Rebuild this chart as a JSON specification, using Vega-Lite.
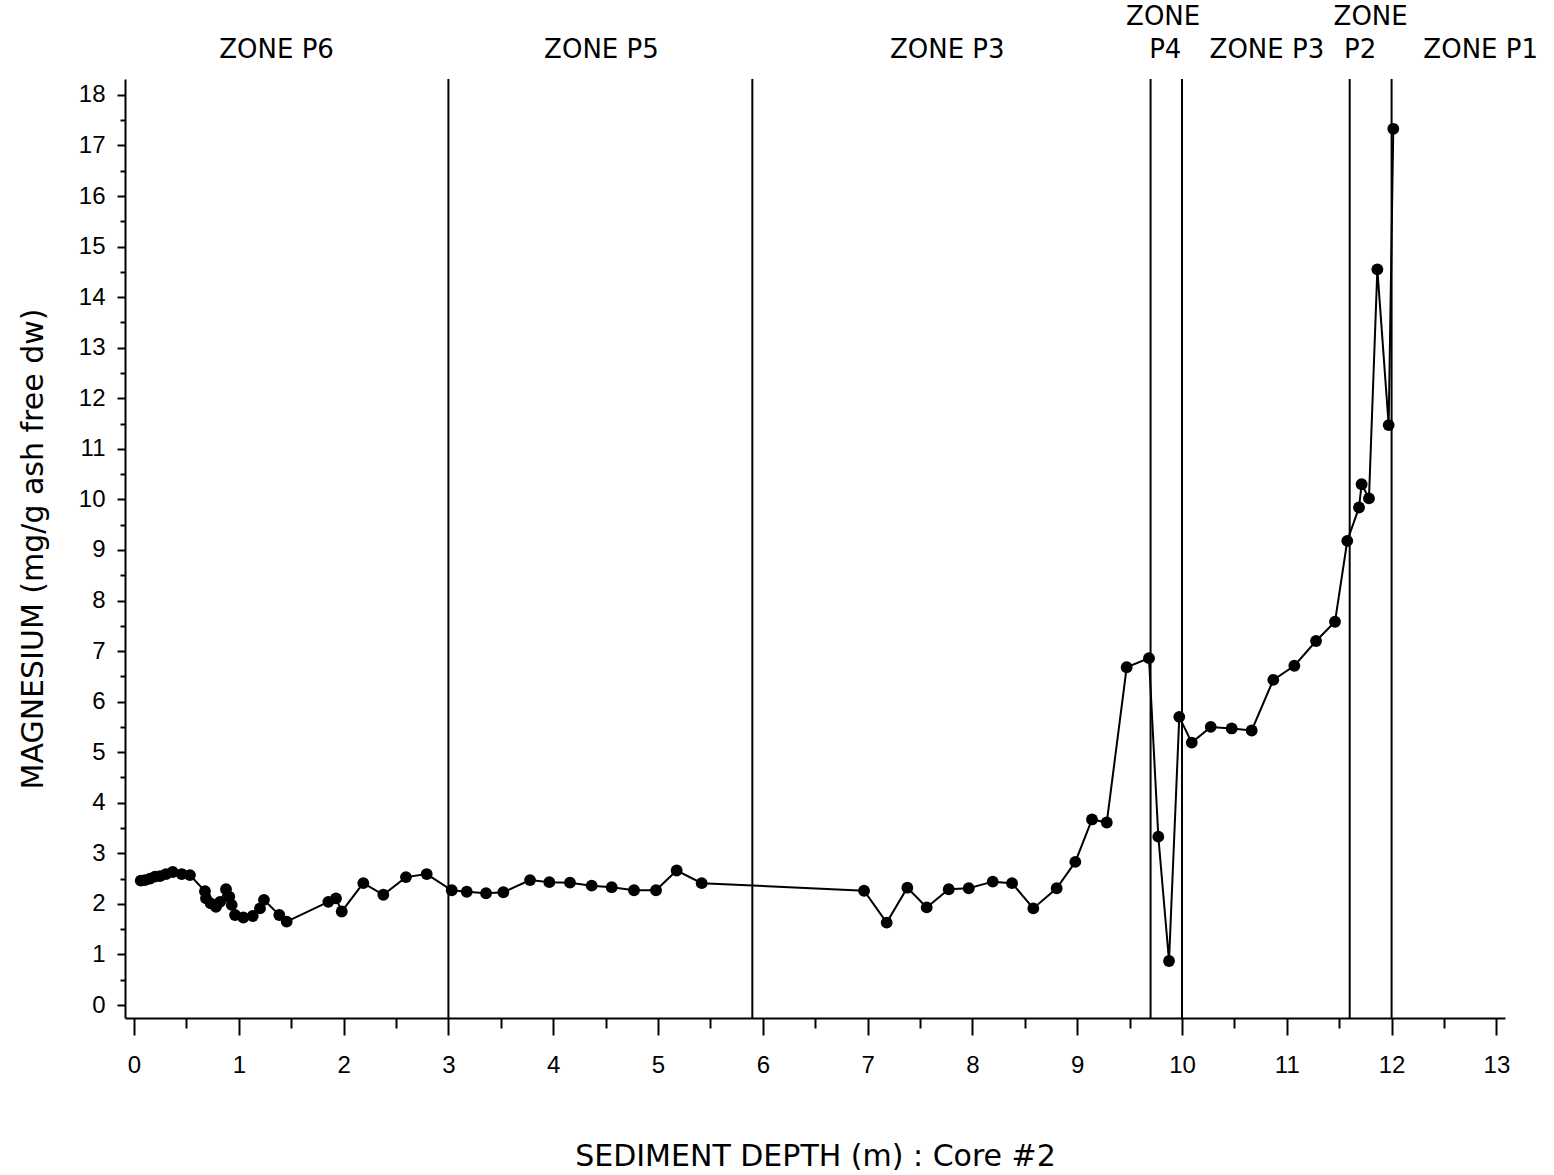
{
  "$schema": "https://vega.github.io/schema/vega-lite/v6.json",
  "width": 1380,
  "height": 939,
  "autosize": {"type": "none"},
  "padding": {"left": 125, "top": 79, "right": 49, "bottom": 157},
  "background": "white",
  "config": {
    "view": {"stroke": null},
    "axis": {
      "grid": false,
      "domainColor": "black",
      "domainWidth": 2,
      "tickColor": "black",
      "tickWidth": 2,
      "labelColor": "black",
      "labelFont": "Liberation Sans",
      "labelFontSize": 24,
      "titleColor": "black",
      "titleFont": "DejaVu Sans",
      "titleFontWeight": "normal",
      "titleFontSize": 30
    }
  },
  "datasets": {
    "core2": [
      {"depth": 0.064, "mg": 2.46}, {"depth": 0.105, "mg": 2.47}, {"depth": 0.153, "mg": 2.50},
      {"depth": 0.200, "mg": 2.54}, {"depth": 0.248, "mg": 2.55}, {"depth": 0.305, "mg": 2.59},
      {"depth": 0.369, "mg": 2.63}, {"depth": 0.455, "mg": 2.59}, {"depth": 0.534, "mg": 2.57},
      {"depth": 0.677, "mg": 2.25}, {"depth": 0.687, "mg": 2.11}, {"depth": 0.732, "mg": 2.01},
      {"depth": 0.782, "mg": 1.94}, {"depth": 0.821, "mg": 2.04}, {"depth": 0.878, "mg": 2.29},
      {"depth": 0.909, "mg": 2.14}, {"depth": 0.932, "mg": 1.98}, {"depth": 0.964, "mg": 1.78},
      {"depth": 1.043, "mg": 1.73}, {"depth": 1.133, "mg": 1.76}, {"depth": 1.202, "mg": 1.91},
      {"depth": 1.240, "mg": 2.08}, {"depth": 1.386, "mg": 1.78}, {"depth": 1.457, "mg": 1.65},
      {"depth": 1.854, "mg": 2.04}, {"depth": 1.927, "mg": 2.11}, {"depth": 1.982, "mg": 1.85},
      {"depth": 2.188, "mg": 2.41}, {"depth": 2.379, "mg": 2.18}, {"depth": 2.595, "mg": 2.53},
      {"depth": 2.793, "mg": 2.59}, {"depth": 3.032, "mg": 2.27}, {"depth": 3.175, "mg": 2.24},
      {"depth": 3.359, "mg": 2.21}, {"depth": 3.524, "mg": 2.23}, {"depth": 3.779, "mg": 2.47},
      {"depth": 3.963, "mg": 2.43}, {"depth": 4.160, "mg": 2.42}, {"depth": 4.367, "mg": 2.36},
      {"depth": 4.558, "mg": 2.33}, {"depth": 4.771, "mg": 2.27}, {"depth": 4.981, "mg": 2.27},
      {"depth": 5.178, "mg": 2.66}, {"depth": 5.417, "mg": 2.41}, {"depth": 6.966, "mg": 2.26},
      {"depth": 7.182, "mg": 1.63}, {"depth": 7.379, "mg": 2.32}, {"depth": 7.564, "mg": 1.93},
      {"depth": 7.774, "mg": 2.29}, {"depth": 7.965, "mg": 2.31}, {"depth": 8.194, "mg": 2.44},
      {"depth": 8.378, "mg": 2.41}, {"depth": 8.581, "mg": 1.91}, {"depth": 8.804, "mg": 2.31},
      {"depth": 8.982, "mg": 2.83}, {"depth": 9.141, "mg": 3.67}, {"depth": 9.282, "mg": 3.61},
      {"depth": 9.472, "mg": 6.68}, {"depth": 9.685, "mg": 6.86}, {"depth": 9.774, "mg": 3.33},
      {"depth": 9.876, "mg": 0.87}, {"depth": 9.974, "mg": 5.70}, {"depth": 10.093, "mg": 5.19},
      {"depth": 10.274, "mg": 5.50}, {"depth": 10.474, "mg": 5.47}, {"depth": 10.665, "mg": 5.43},
      {"depth": 10.871, "mg": 6.43}, {"depth": 11.072, "mg": 6.71}, {"depth": 11.279, "mg": 7.20},
      {"depth": 11.460, "mg": 7.58}, {"depth": 11.577, "mg": 9.18}, {"depth": 11.689, "mg": 9.84},
      {"depth": 11.714, "mg": 10.30}, {"depth": 11.784, "mg": 10.02}, {"depth": 11.864, "mg": 14.55},
      {"depth": 11.972, "mg": 11.47}, {"depth": 12.016, "mg": 17.33}
    ],
    "boundaries": [
      {"depth": 3.0}, {"depth": 5.9}, {"depth": 9.7}, {"depth": 10.0}, {"depth": 11.6}, {"depth": 12.0}
    ],
    "zones": [
      {"depth": 1.36, "mg": 18.88, "label": "ZONE P6"},
      {"depth": 4.46, "mg": 18.88, "label": "ZONE P5"},
      {"depth": 7.76, "mg": 18.88, "label": "ZONE P3"},
      {"depth": 9.82, "mg": 19.55, "label": "ZONE"},
      {"depth": 9.84, "mg": 18.88, "label": "P4"},
      {"depth": 10.81, "mg": 18.88, "label": "ZONE P3"},
      {"depth": 11.80, "mg": 19.55, "label": "ZONE"},
      {"depth": 11.70, "mg": 18.88, "label": "P2"},
      {"depth": 12.85, "mg": 18.88, "label": "ZONE P1"}
    ]
  },
  "resolve": {"axis": {"x": "independent", "y": "independent"}},
  "layer": [
    {
      "data": {"name": "boundaries"},
      "mark": {"type": "rule", "color": "black", "strokeWidth": 2},
      "encoding": {
        "x": {"field": "depth", "type": "quantitative", "axis": null,
              "scale": {"domain": [-0.086, 13.082], "nice": false, "zero": false}}
      }
    },
    {
      "data": {"name": "core2"},
      "mark": {"type": "line", "color": "black", "strokeWidth": 2},
      "encoding": {
        "x": {"field": "depth", "type": "quantitative",
              "scale": {"domain": [-0.086, 13.082], "nice": false, "zero": false},
              "axis": {"orient": "bottom", "values": [0,1,2,3,4,5,6,7,8,9,10,11,12,13],
                       "tickSize": 17, "labelPadding": 18, "labelFlush": false,
                       "title": "SEDIMENT DEPTH (m) : Core #2", "titlePadding": 64}},
        "y": {"field": "mg", "type": "quantitative",
              "scale": {"domain": [-0.257, 18.315], "nice": false, "zero": false},
              "axis": {"orient": "left", "values": [0,1,2,3,4,5,6,7,8,9,10,11,12,13,14,15,16,17,18],
                       "tickSize": 8, "labelPadding": 12, "labelFlush": false,
                       "title": "MAGNESIUM (mg/g ash free dw)", "titlePadding": 30}}
      }
    },
    {
      "data": {"name": "core2"},
      "mark": {"type": "circle", "color": "black", "opacity": 1, "size": 140},
      "encoding": {
        "x": {"field": "depth", "type": "quantitative",
              "axis": {"orient": "bottom", "values": [0.5,1.5,2.5,3.5,4.5,5.5,6.5,7.5,8.5,9.5,10.5,11.5,12.5],
                       "tickSize": 10, "labels": false, "domain": false, "title": null}},
        "y": {"field": "mg", "type": "quantitative",
              "axis": {"orient": "left", "values": [0.5,1.5,2.5,3.5,4.5,5.5,6.5,7.5,8.5,9.5,10.5,11.5,12.5,13.5,14.5,15.5,16.5,17.5],
                       "tickSize": 5, "labels": false, "domain": false, "title": null}}
      }
    },
    {
      "data": {"name": "zones"},
      "mark": {"type": "text", "color": "black", "font": "DejaVu Sans", "fontSize": 26,
               "align": "center", "baseline": "middle"},
      "encoding": {
        "x": {"field": "depth", "type": "quantitative", "axis": null},
        "y": {"field": "mg", "type": "quantitative", "axis": null},
        "text": {"field": "label"}
      }
    }
  ]
}
